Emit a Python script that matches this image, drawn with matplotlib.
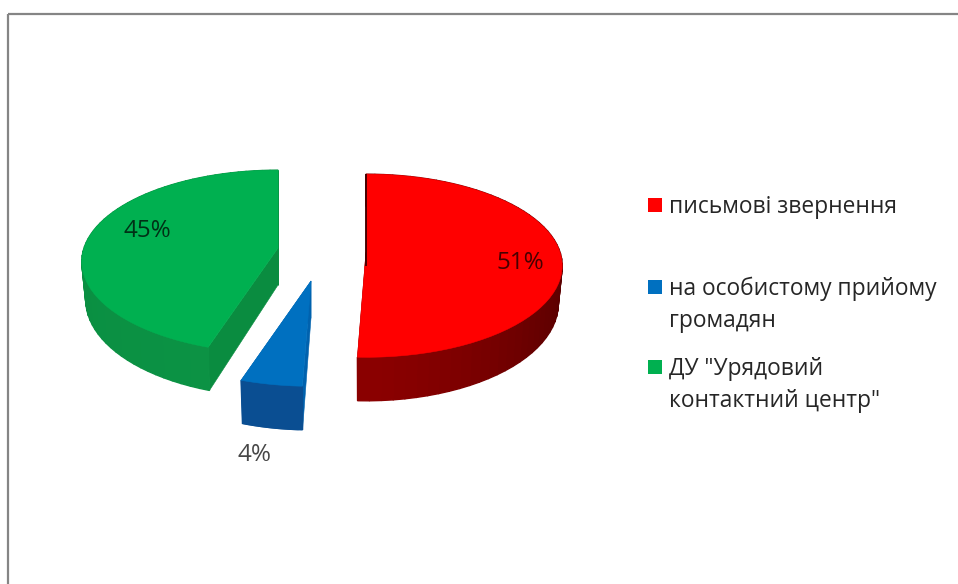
import numpy as np
import matplotlib
matplotlib.use("Agg")
import matplotlib.pyplot as plt
from matplotlib.colors import to_rgb
from matplotlib.patches import Polygon, Rectangle

categories = ["письмові звернення", "на особистому прийому\nгромадян", "ДУ \"Урядовий\nконтактний центр\""]
values = [50.6, 4.4, 45.0]
pct_labels = ["51%", "4%", "45%"]

colors_top = ["#FF0000", "#0070C0", "#00B050"]
colors_wall_a = ["#8A0000", "#0A4E92", "#0C9345"]   # front of the wall
colors_wall_b = ["#5A0000", "#0A4E92", "#0A8F42"]   # far end of the wall
colors_cut = ["#700000", "#0062AE", "#0A8C40"]
centers = [(366, 252), (311, 281), (278, 248)]
label_pos = [(520, 263), (255, 455), (147, 231)]
legend_y = [205, 287, 367]

RX, RY, P, DEPTH = 194.0, 89.5, 0.15, 37.0

plt.rcParams["font.family"] = ["Open Sans", "DejaVu Sans"]
fig = plt.figure(figsize=(9.58, 5.84), dpi=100)
ax = fig.add_axes([0, 0, 1, 1])
ax.set_xlim(0, 958)
ax.set_ylim(584, 0)
ax.axis("off")


def project(center, deg, r=1.0, drop=0.0):
    t = np.radians(deg)
    u, v = r * np.sin(t), -r * np.cos(t)
    s = 1.0 / (1.0 - P * v)
    k = 1.0 - 0.02 * (drop > 0)
    return center[0] + k * RX * u * s, center[1] + RY * v * s + drop * s


def mix(a, b, f):
    a, b = np.array(to_rgb(a)), np.array(to_rgb(b))
    return tuple(a + (b - a) * f)


starts = np.cumsum([0] + values[:-1]) * 3.6
spans = np.array(values) * 3.6

for i in [2, 1, 0]:
    c = centers[i]
    a0, a1 = starts[i], starts[i] + spans[i]
    th = np.linspace(a0, a1, 61)

    # flat cut faces
    for a in (a0, a1):
        p0 = project(c, a, 0.0)
        p1 = project(c, a, 1.0)
        p2 = project(c, a, 1.0, DEPTH)
        p3 = project(c, a, 0.0, DEPTH)
        ax.add_patch(Polygon([p0, p1, p2, p3], closed=True, fc=colors_cut[i], ec=colors_cut[i], lw=0.4))

    # outer wall as shaded strips
    for t0, t1 in zip(th[:-1], th[1:]):
        f = min(abs(np.sin(np.radians(0.5 * (t0 + t1)))), 1.0) ** 1.5
        col = mix(colors_wall_a[i], colors_wall_b[i], f)
        q = [project(c, t0), project(c, t1), project(c, t1, 1.0, DEPTH), project(c, t0, 1.0, DEPTH)]
        ax.add_patch(Polygon(q, closed=True, fc=col, ec=col, lw=1.0))

    # top face
    xs, ys = project(c, th)
    pts = [project(c, a0, 0.0)] + list(zip(xs, ys))
    ax.add_patch(Polygon(pts, closed=True, fc=colors_top[i], ec=colors_top[i], lw=0.4))

# dark inner edge of the red slice
e0, e1 = project(centers[0], starts[0], 1.0), project(centers[0], starts[0], 0.0)
ax.plot([e0[0], e1[0]], [e0[1], e1[1] + 14], color="#3A0000", lw=1.3, solid_capstyle="butt")

for s, (x, y) in zip(pct_labels, label_pos):
    ax.text(x, y, s, ha="center", va="center", fontsize=17.5, color="#000000", alpha=0.72)

for cat, col, y in zip(categories, colors_top, legend_y):
    ax.add_patch(Rectangle((648, y - 7), 14.5, 14, fc=col, ec="none"))
    ax.text(669.5, y - 10, cat, ha="left", va="top", fontsize=16.4, color="#262626", linespacing=1.42)

# chart frame
ax.plot([8.5, 8.5], [584, 13.5], color="#858585", lw=1.6, solid_capstyle="butt")
ax.plot([8, 958], [13.5, 13.5], color="#858585", lw=1.6, solid_capstyle="butt")

fig.savefig("out.png", dpi=100, facecolor="white")
